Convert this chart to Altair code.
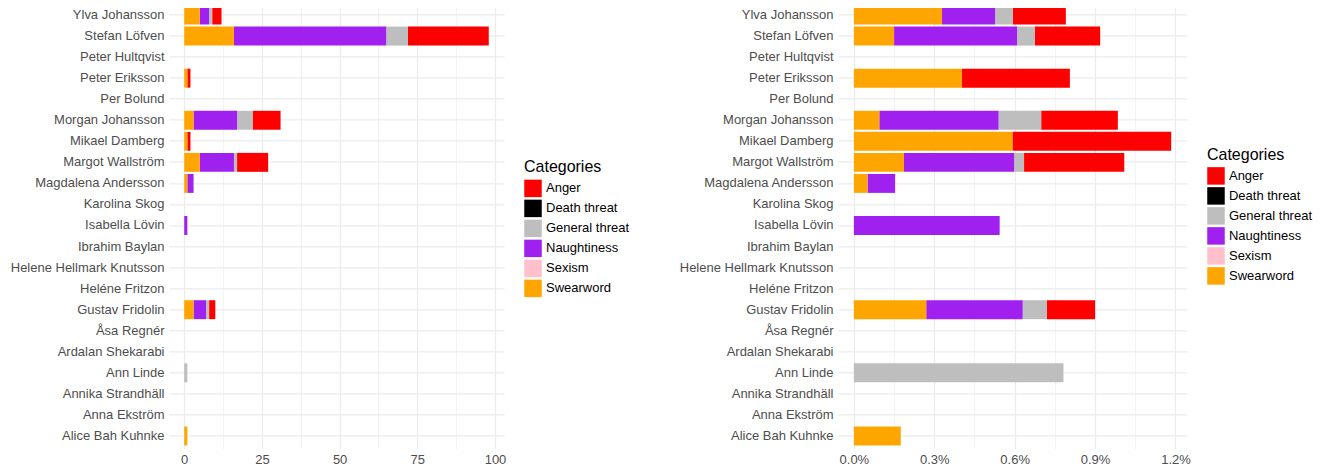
import altair as alt
import pandas as pd

names = [
    "Ylva Johansson", "Stefan Löfven", "Peter Hultqvist", "Peter Eriksson",
    "Per Bolund", "Morgan Johansson", "Mikael Damberg", "Margot Wallström",
    "Magdalena Andersson", "Karolina Skog", "Isabella Lövin", "Ibrahim Baylan",
    "Helene Hellmark Knutsson", "Heléne Fritzon", "Gustav Fridolin", "Åsa Regnér",
    "Ardalan Shekarabi", "Ann Linde", "Annika Strandhäll", "Anna Ekström",
    "Alice Bah Kuhnke",
]
categories = ["Anger", "Death threat", "General threat", "Naughtiness", "Sexism", "Swearword"]
colors = ["#FF0000", "#000000", "#BEBEBE", "#A020F0", "#FFC0CB", "#FFA500"]

# counts (left panel)
count_anger = [3, 26, 0, 1, 0, 9, 1, 10, 0, 0, 0, 0, 0, 0, 2, 0, 0, 0, 0, 0, 0]
count_death = [0] * 21
count_general = [1, 7, 0, 0, 0, 5, 0, 1, 0, 0, 0, 0, 0, 0, 1, 0, 0, 1, 0, 0, 0]
count_naughty = [3, 49, 0, 0, 0, 14, 0, 11, 2, 0, 1, 0, 0, 0, 4, 0, 0, 0, 0, 0, 0]
count_sexism = [0] * 21
count_swear = [5, 16, 0, 1, 0, 3, 1, 5, 1, 0, 0, 0, 0, 0, 3, 0, 0, 0, 0, 0, 1]

# percentages (right panel), in %
pct_anger = [0.198, 0.244, 0, 0.403, 0, 0.286, 0.592, 0.374, 0, 0, 0, 0, 0, 0, 0.18, 0, 0, 0, 0, 0, 0]
pct_death = [0] * 21
pct_general = [0.066, 0.066, 0, 0, 0, 0.159, 0, 0.037, 0, 0, 0, 0, 0, 0, 0.09, 0, 0, 0.782, 0, 0, 0]
pct_naughty = [0.198, 0.459, 0, 0, 0, 0.445, 0, 0.411, 0.103, 0, 0.544, 0, 0, 0, 0.36, 0, 0, 0, 0, 0, 0]
pct_sexism = [0] * 21
pct_swear = [0.329, 0.15, 0, 0.403, 0, 0.095, 0.592, 0.187, 0.051, 0, 0, 0, 0, 0, 0.27, 0, 0, 0, 0, 0, 0.175]

count_series = dict(zip(categories, [count_anger, count_death, count_general,
                                     count_naughty, count_sexism, count_swear]))
pct_series = dict(zip(categories, [pct_anger, pct_death, pct_general,
                                   pct_naughty, pct_sexism, pct_swear]))


def to_long(series):
    rows = []
    for cat, vals in series.items():
        for n, v in zip(names, vals):
            if v > 0:
                rows.append({"name": n, "cat": cat, "val": v,
                             "ord": len(categories) - 1 - categories.index(cat)})
    return pd.DataFrame(rows)


FONT = "Liberation Sans"
H = 446.2


def panel(df, width, domain, ticks, label_expr, major_test, lx, ly):
    return alt.Chart(df).mark_bar(strokeWidth=0).encode(
        x=alt.X("val:Q", stack="zero",
                scale=alt.Scale(domain=domain, nice=False, zero=False),
                axis=alt.Axis(values=ticks, labelExpr=label_expr, title=None,
                              ticks=False, tickSize=0, domain=False, labelPadding=5,
                              grid=True, gridColor="#EBEBEB",
                              gridWidth={"condition": {"test": major_test, "value": 1.2},
                                         "value": 0.6},
                              labelFont=FONT, labelFontSize=13, labelColor="#4D4D4D",
                              labelFlush=False, labelOverlap=False)),
        y=alt.Y("name:N", sort=names,
                scale=alt.Scale(domain=names, paddingInner=0.1, paddingOuter=0.15),
                axis=alt.Axis(title=None, ticks=False, tickSize=0, domain=False,
                              grid=True, gridColor="#EBEBEB", gridWidth=1.2,
                              bandPosition=0.5, labelPadding=5, labelFont=FONT,
                              labelFontSize=13, labelColor="#4D4D4D", labelLimit=300)),
        color=alt.Color("cat:N", scale=alt.Scale(domain=categories, range=colors),
                        legend=alt.Legend(title="Categories", orient="none",
                                          legendX=lx, legendY=ly, padding=0,
                                          symbolType="square", symbolSize=306,
                                          symbolStrokeWidth=0, rowPadding=2,
                                          labelOffset=4, labelFont=FONT,
                                          labelFontSize=13, labelColor="#000000",
                                          titleFont=FONT, titleFontSize=16,
                                          titleFontWeight="normal", titleColor="#000000",
                                          titlePadding=4)),
        order=alt.Order("ord:Q", sort="ascending"),
    ).properties(width=width, height=H)


left = panel(to_long(count_series), 335, [-4.9, 102.9],
             [0, 12.5, 25, 37.5, 50, 62.5, 75, 87.5, 100],
             "datum.value % 25 === 0 ? format(datum.value, 'd') : ''",
             "datum.value % 25 === 0", 355, 157)

right = panel(to_long(pct_series), 349, [-0.0592, 1.243],
              [0, 0.15, 0.3, 0.45, 0.6, 0.75, 0.9, 1.05, 1.2],
              "round(datum.value * 20) % 6 === 0 ? format(datum.value, '.1f') + '%' : ''",
              "round(datum.value * 20) % 6 === 0", 369, 144.5)

chart = alt.hconcat(left, right, spacing=334, bounds="flush").resolve_scale(
    color="independent", x="independent", y="independent"
).properties(
    padding={"left": 2, "top": -5.6, "right": 0, "bottom": 0},
    background="white",
).configure_view(stroke=None)

chart.save("out.html", embed_options={"renderer": "svg", "actions": False})
